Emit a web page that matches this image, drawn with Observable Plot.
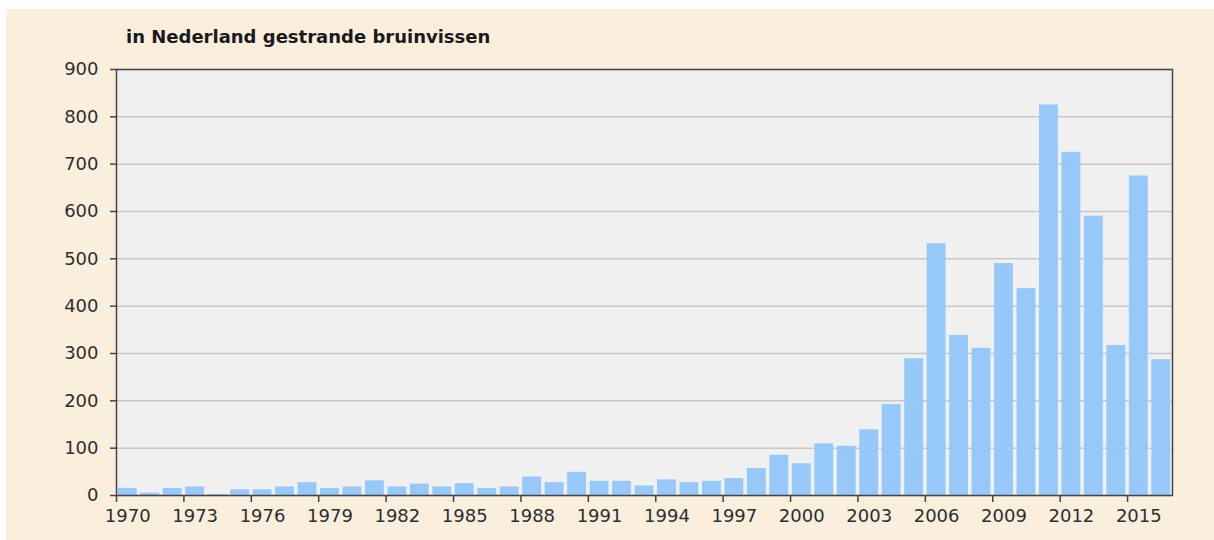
<!DOCTYPE html>
<html>
<head>
<meta charset="utf-8">
<script src="https://cdn.jsdelivr.net/npm/d3@7"></script>
<script src="https://cdn.jsdelivr.net/npm/@observablehq/plot@0.6"></script>
<style>
  html, body { margin: 0; padding: 0; background: #ffffff; width: 1214px; height: 540px; overflow: hidden; }
  #card { position: absolute; left: 6px; top: 9px; width: 1208px; height: 531px; background: #faeedd; }
  #title { height: 45px; box-sizing: border-box; padding: 17px 0 0 120px; font: bold 18px/22px "DejaVu Sans", Verdana, sans-serif; color: #1a1a1a; }
  #chart svg { display: block; }
</style>
</head>
<body>
<div id="card">
  <div id="title">in Nederland gestrande bruinvissen</div>
  <div id="chart"></div>
</div>
<script>
const years = d3.range(1970, 2017);
const counts = [15, 5, 15, 18, 2, 12, 12, 18, 27, 15, 18, 31, 18, 24, 18, 25,
  15, 18, 39, 27, 49, 30, 30, 20, 33, 27, 30, 36, 57, 85, 67, 109, 104, 139,
  192, 289, 532, 338, 311, 490, 437, 825, 725, 590, 317, 675, 287];
const yTicks = [0, 100, 200, 300, 400, 500, 600, 700, 800, 900];
const xTickYears = [1970, 1973, 1976, 1979, 1982, 1985, 1988, 1991, 1994, 1997, 2000, 2003, 2006, 2009, 2012, 2015];

const data = years.map((y, i) => ({year: y, count: counts[i]}));

const W = 1208, H = 486;
const mL = 110, mR = 42, mT = 15, mB = 45;
const step = (W - mL - mR) / years.length;

const chart = Plot.plot({
  width: W,
  height: H,
  marginLeft: mL,
  marginRight: mR,
  marginTop: mT,
  marginBottom: mB,
  style: {background: "transparent", fontFamily: "'DejaVu Sans', Verdana, sans-serif", fontSize: "18px", color: "#2e2e2e"},
  x: {type: "band", domain: years, paddingInner: 0.16, paddingOuter: 0.08, round: false, label: null},
  y: {domain: [0, 900], label: null},
  marks: [
    Plot.frame({fill: "#f0f0f0", stroke: null}),
    Plot.gridY(yTicks, {stroke: "#c8c8c8", strokeOpacity: 1, strokeWidth: 1.5}),
    Plot.barY(data, {x: "year", y: "count", fill: "#96c8fa"}),
    Plot.axisY({ticks: yTicks, tickSize: 6, tickPadding: 12, stroke: "#444", strokeWidth: 1.5, fill: "#2e2e2e", label: null}),
    Plot.axisX({ticks: xTickYears, tickSize: 0, tickPadding: 14, fill: "#2e2e2e", label: null, tickFormat: d => String(d)}),
    Plot.axisX({ticks: xTickYears, tickSize: 7, dx: -step / 2, stroke: "#444", strokeWidth: 1.5, tickFormat: () => "", label: null}),
    Plot.frame({stroke: "#444", strokeWidth: 1.5})
  ]
});
document.getElementById("chart").appendChild(chart);
</script>
</body>
</html>
